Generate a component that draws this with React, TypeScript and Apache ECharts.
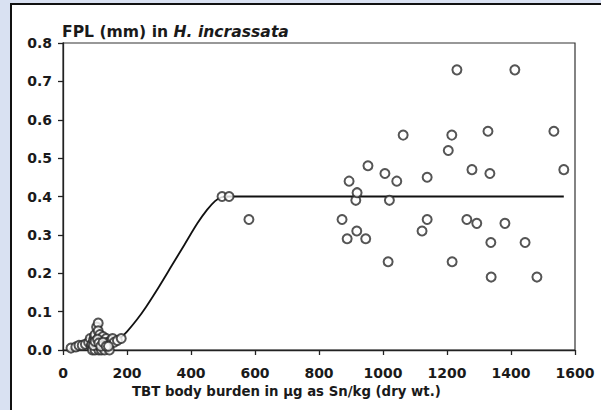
import React, { useEffect, useRef } from "react";
import * as echarts from "echarts";

// Fitted curve
const curveX = [20, 100, 150, 180, 200, 230, 260, 300, 340, 380, 420, 450, 475, 495, 520, 600, 1000, 1565];
const curveY = [0.003, 0.008, 0.018, 0.032, 0.048, 0.078, 0.113, 0.165, 0.22, 0.275, 0.33, 0.365, 0.388, 0.398, 0.4, 0.4, 0.4, 0.4];

// Low-burden cluster
const clusterX = [25, 40, 50, 60, 70, 80, 85, 88, 90, 92, 95, 98, 100, 100, 102, 105, 105, 108, 110, 110, 110, 112, 115, 115, 118, 120, 120, 122, 125, 128, 130, 130, 135, 140, 145, 150, 155, 160, 170, 182, 95, 100, 108, 112, 118, 125, 135, 142];
const clusterY = [0.005, 0.008, 0.012, 0.012, 0.015, 0.02, 0.03, 0.01, 0.015, 0.0, 0.025, 0.035, 0.04, 0.0, 0.018, 0.06, 0.02, 0.01, 0.07, 0.05, 0.03, 0.0, 0.01, 0.04, 0.022, 0.0, 0.025, 0.015, 0.035, 0.008, 0.015, 0.0, 0.03, 0.02, 0.0, 0.025, 0.03, 0.02, 0.025, 0.03, 0.012, 0.022, 0.028, 0.018, 0.01, 0.02, 0.01, 0.01];

// Higher-burden observations
const obsX = [497, 519, 581, 872, 888, 894, 915, 918, 919, 946, 953, 1006, 1016, 1020, 1043, 1063, 1122, 1138, 1138, 1204, 1215, 1216, 1231, 1262, 1278, 1293, 1328, 1334, 1337, 1338, 1381, 1412, 1444, 1481, 1534, 1565];
const obsY = [0.40, 0.40, 0.34, 0.34, 0.29, 0.44, 0.39, 0.31, 0.41, 0.29, 0.48, 0.46, 0.23, 0.39, 0.44, 0.56, 0.31, 0.34, 0.45, 0.52, 0.56, 0.23, 0.73, 0.34, 0.47, 0.33, 0.57, 0.46, 0.28, 0.19, 0.33, 0.73, 0.28, 0.19, 0.57, 0.47];

const xTicks = [0, 200, 400, 600, 800, 1000, 1200, 1400, 1600];
const yTicks = [0, 0.1, 0.2, 0.3, 0.4, 0.5, 0.6, 0.7, 0.8];

const titleA = "FPL (mm) in ";
const titleB = "H. incrassata";
const xName = "TBT body burden in \u03bcg as Sn/kg (dry wt.)";

const FONT = "DejaVu Sans";
const INK = "#1a1a1a";

export default function App() {
  const ref = useRef<HTMLDivElement>(null);
  useEffect(() => {
    if (!ref.current) return;
    const chart = echarts.init(ref.current, null, { renderer: "svg" });
    const scatterData = [
      ...clusterX.map((x, i) => [x, clusterY[i]]),
      ...obsX.map((x, i) => [x, obsY[i]]),
    ];
    chart.setOption({
      animation: false,
      backgroundColor: "transparent",
      title: {
        left: 57,
        top: 19,
        text: `{a|${titleA}}{b|${titleB}}`,
        textStyle: {
          rich: {
            a: { fontFamily: FONT, fontSize: 15.6, fontWeight: "bold", color: INK },
            b: { fontFamily: FONT, fontSize: 15.6, fontWeight: "bold", fontStyle: "italic", color: INK },
          },
        },
      },
      graphic: [
        {
          type: "text",
          left: 132,
          top: 385,
          style: { text: xName, fontFamily: FONT, fontSize: 13.3, fontWeight: "bold", fill: INK },
        },
      ],
      grid: {
        left: 63,
        top: 43,
        right: 26,
        bottom: 60,
        show: true,
        borderColor: "#333",
        borderWidth: 1.2,
        backgroundColor: "transparent",
      },
      xAxis: {
        type: "value",
        min: xTicks[0],
        max: xTicks[xTicks.length - 1],
        interval: 200,
        splitLine: { show: false },
        axisLine: { lineStyle: { color: "#222", width: 1.3 } },
        axisTick: { inside: false, length: 5, lineStyle: { color: "#222", width: 1.3 } },
        axisLabel: {
          fontFamily: FONT,
          fontSize: 14,
          fontWeight: "bold",
          color: INK,
          margin: 16,
          formatter: (v: number) => String(v),
        },
      },
      yAxis: {
        type: "value",
        min: yTicks[0],
        max: yTicks[yTicks.length - 1],
        interval: 0.1,
        splitLine: { show: false },
        axisLine: { show: true, lineStyle: { color: "#222", width: 1.3 } },
        axisTick: { show: true, inside: false, length: 5, lineStyle: { color: "#222", width: 1.3 } },
        axisLabel: {
          fontFamily: FONT,
          fontSize: 14,
          fontWeight: "bold",
          color: INK,
          margin: 11,
          formatter: (v: number) => v.toFixed(1),
        },
      },
      series: [
        {
          type: "line",
          data: curveX.map((x, i) => [x, curveY[i]]),
          smooth: 0.3,
          showSymbol: false,
          lineStyle: { color: "#111", width: 1.8 },
          z: 3,
        },
        {
          type: "scatter",
          data: scatterData,
          symbol: "emptyCircle",
          symbolSize: 9,
          itemStyle: { color: "#2a2a2a", borderColor: "#2a2a2a", borderWidth: 1.3 },
          z: 4,
        },
      ],
    });
    return () => chart.dispose();
  }, []);

  return (
    <div style={{ position: "absolute", left: 0, top: 0, width: 601, height: 410, background: "#d9e1f2", overflow: "hidden" }}>
      <div
        style={{
          position: "absolute",
          left: 10,
          top: 3,
          width: 600,
          height: 420,
          background: "#ffffff",
          border: "2px solid #111",
          boxSizing: "border-box",
        }}
      />
      <div ref={ref} style={{ position: "absolute", left: 0, top: 0, width: 601, height: 410 }} />
    </div>
  );
}
